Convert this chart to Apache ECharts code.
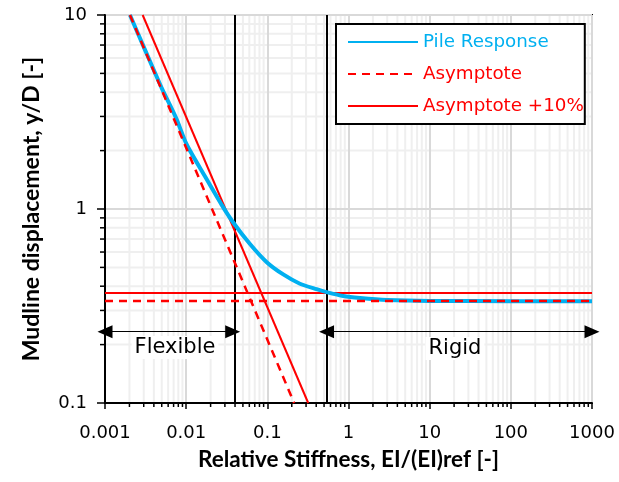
<!DOCTYPE html>
<html><head><meta charset="utf-8">
<script src="https://cdn.jsdelivr.net/npm/echarts@6/dist/echarts.min.js"></script>
<style>html,body{margin:0;padding:0;background:#fff}#c{width:619px;height:482px}</style>
</head><body><div id="c"></div>
<script>
// ---- data ----
const xTicks = [0.001, 0.01, 0.1, 1, 10, 100, 1000];
const xTickLabels = ['0.001', '0.01', '0.1', '1', '10', '100', '1000'];
const yTicks = [0.1, 1, 10];
const yTickLabels = ['0.1', '1', '10'];

const pileX = [0.00203, 0.003, 0.005, 0.0075, 0.01015, 0.0171, 0.0274, 0.0374, 0.0611, 0.0983, 0.157, 0.252, 0.405, 0.537, 0.863, 1.39, 3, 10, 100, 1000];
const pileY = [10, 6.85, 4.2, 2.95, 2.15, 1.47, 1.05, 0.86, 0.66, 0.532, 0.46, 0.412, 0.386, 0.373, 0.356, 0.348, 0.34, 0.336, 0.335, 0.335];

const asymSlopeX = [0.00203, 0.214];
const asymSlopeY = [10, 0.1];
const asymFlatX = [0.001, 1000];
const asymFlatY = [0.336, 0.336];

const asym10SlopeX = [0.00291, 0.319];
const asym10SlopeY = [10, 0.1];
const asym10FlatX = [0.001, 1000];
const asym10FlatY = [0.369, 0.369];

const boundaries = [0.0374, 0.537];
const arrowY = 0.233;
const regionNames = ['Flexible', 'Rigid'];
const regionFrom = [0.001, 0.537];
const regionTo = [0.0374, 1000];
const regionLabelX = [0.00728, 20.5];
const regionLabelY = [0.193, 0.191];

const seriesNames = ['Pile Response', 'Asymptote', 'Asymptote +10%'];
const xTitle = 'Relative Stiffness, EI/(EI)ref [-]';
const yTitle = 'Mudline displacement, y/D [-]';

// ---- helpers ----
const zip = (a, b) => a.map((v, i) => [v, b[i]]);
const FONT = 'DejaVu Sans';
const TFONT = 'Lato';
const BLUE = '#00b0f0', RED = '#ff0000';

function minors(lo, hi) {
  const out = [];
  for (let d = lo; d < hi * 0.999; d *= 10) {
    for (let k = 2; k <= 9; k++) out.push(+(d * k).toPrecision(3));
  }
  return out;
}
const xMinor = minors(0.001, 1000);
const yMinor = minors(0.1, 10);

function labelFor(ticks, labels) {
  return function (v) {
    for (let i = 0; i < ticks.length; i++) {
      if (Math.abs(Math.log10(v) - Math.log10(ticks[i])) < 1e-6) return labels[i];
    }
    return '';
  };
}

const chart = echarts.init(document.getElementById('c'), null, { renderer: 'canvas' });

const gridSeries = {
  type: 'custom', silent: true, z: 1, clip: false,
  data: xMinor.map(v => [v, 1, 'x']).concat(yMinor.map(v => [1, v, 'y'])),
  encode: { x: 0, y: 1 },
  renderItem: function (params, api) {
    const kind = api.value(2);
    const children = [];
    if (kind === 'x') {
      const v = api.value(0);
      const p1 = api.coord([v, 10]), p2 = api.coord([v, 0.1]);
      children.push({ type: 'line', shape: { x1: p1[0], y1: p1[1], x2: p2[0], y2: p2[1] }, style: { stroke: '#efefef', lineWidth: 2 } });
      children.push({ type: 'line', shape: { x1: p2[0], y1: p2[1], x2: p2[0], y2: p2[1] + 4 }, style: { stroke: '#000', lineWidth: 1.5 } });
    } else {
      const v = api.value(1);
      const p1 = api.coord([0.001, v]), p2 = api.coord([1000, v]);
      children.push({ type: 'line', shape: { x1: p1[0], y1: p1[1], x2: p2[0], y2: p2[1] }, style: { stroke: '#efefef', lineWidth: 2 } });
      children.push({ type: 'line', shape: { x1: p1[0] - 5, y1: p1[1], x2: p1[0], y2: p1[1] }, style: { stroke: '#000', lineWidth: 1.5 } });
    }
    return { type: 'group', children: children };
  }
};

const option = {
  animation: false,
  textStyle: { fontFamily: FONT },
  grid: { left: 105, right: 27, top: 15, bottom: 79, show: true, borderColor: '#000', borderWidth: 2, z: 3 },
  xAxis: {
    type: 'log', logBase: 10, min: 0.001, max: 1000, splitNumber: 6,
    name: xTitle, nameLocation: 'middle', nameGap: 45,
    nameTextStyle: { fontFamily: TFONT, fontWeight: 'bold', fontSize: 22.5, color: '#000' },
    axisLine: { show: true, lineStyle: { color: '#000', width: 2 } },
    axisTick: { show: true, inside: false, length: 6, lineStyle: { color: '#000', width: 1.5 } },
    axisLabel: { fontFamily: FONT, fontSize: 18, color: '#000', margin: 21, formatter: labelFor(xTicks, xTickLabels) },
    splitLine: { show: true, lineStyle: { color: '#d9d9d9', width: 2 } },
    z: 4
  },
  yAxis: {
    type: 'log', logBase: 10, min: 0.1, max: 10, splitNumber: 2,
    name: yTitle, nameLocation: 'middle', nameGap: 62, nameRotate: 90,
    nameTextStyle: { fontFamily: TFONT, fontWeight: 'bold', fontSize: 23, color: '#000' },
    axisLine: { show: true, lineStyle: { color: '#000', width: 2 } },
    axisTick: { show: true, inside: false, length: 8, lineStyle: { color: '#000', width: 1.5 } },
    axisLabel: { fontFamily: FONT, fontSize: 18, color: '#000', margin: 18, formatter: labelFor(yTicks, yTickLabels) },
    splitLine: { show: true, lineStyle: { color: '#d9d9d9', width: 2 } },
    z: 4
  },
  legend: {
    orient: 'vertical', left: 336, top: 24,
    backgroundColor: '#fff', borderColor: '#000', borderWidth: 2,
    padding: [7, 1, 7, 11], itemGap: 10, itemWidth: 70, itemHeight: 14,
    itemStyle: { opacity: 0 },
    textStyle: { fontFamily: FONT, fontSize: 18.3, lineHeight: 22 },
    data: [
      { name: seriesNames[0], textStyle: { color: BLUE } },
      { name: seriesNames[1], textStyle: { color: RED } },
      { name: seriesNames[2], textStyle: { color: RED } }
    ],
    z: 10
  },
  series: [
    gridSeries,
    {
      name: seriesNames[2], type: 'line', data: zip(asym10SlopeX, asym10SlopeY), showSymbol: false, symbol: 'none',
      lineStyle: { color: RED, width: 2 }, itemStyle: { color: RED }, z: 5
    },
    {
      name: seriesNames[2], type: 'line', data: zip(asym10FlatX, asym10FlatY), showSymbol: false, symbol: 'none',
      lineStyle: { color: RED, width: 2 }, itemStyle: { color: RED }, z: 5
    },
    {
      name: seriesNames[0], type: 'line', data: zip(pileX, pileY), smooth: 0.25, showSymbol: false, symbol: 'none',
      lineStyle: { color: BLUE, width: 4 }, itemStyle: { color: BLUE }, z: 6
    },
    {
      name: seriesNames[1], type: 'line', data: zip(asymSlopeX, asymSlopeY), showSymbol: false, symbol: 'none',
      lineStyle: { color: RED, width: 2.5, type: [8, 6] }, itemStyle: { color: RED }, z: 7
    },
    {
      name: seriesNames[1], type: 'line', data: zip(asymFlatX, asymFlatY), showSymbol: false, symbol: 'none',
      lineStyle: { color: RED, width: 2.5, type: [8, 6] }, itemStyle: { color: RED }, z: 7
    },
    {
      name: 'annot', type: 'line', data: [], silent: true, z: 8,
      markLine: {
        silent: true, symbol: 'none', animation: false,
        label: { show: false },
        lineStyle: { color: '#000', width: 2, type: 'solid' },
        data: boundaries.map(b => ({ xAxis: b }))
      }
    },
    {
      name: 'arrows', type: 'line', data: [], silent: true, z: 8,
      markLine: {
        silent: true, symbol: ['triangle', 'triangle'], symbolSize: [13, 15], animation: false,
        label: { show: false },
        lineStyle: { color: '#000', width: 1.2, type: 'solid' },
        itemStyle: { color: '#000' },
        data: regionNames.map((n, i) => [{ coord: [regionFrom[i], arrowY] }, { coord: [regionTo[i], arrowY] }])
      },
      markPoint: {
        silent: true, symbol: 'rect', symbolSize: 0, animation: false,
        label: {
          show: true, position: 'inside', fontFamily: FONT, fontSize: 21, color: '#000',
          backgroundColor: '#fff', padding: [1, 3],
          formatter: p => p.name
        },
        data: regionNames.map((n, i) => ({ name: n, coord: [regionLabelX[i], regionLabelY[i]] }))
      }
    }
  ]
};
chart.setOption(option);
</script></body></html>
